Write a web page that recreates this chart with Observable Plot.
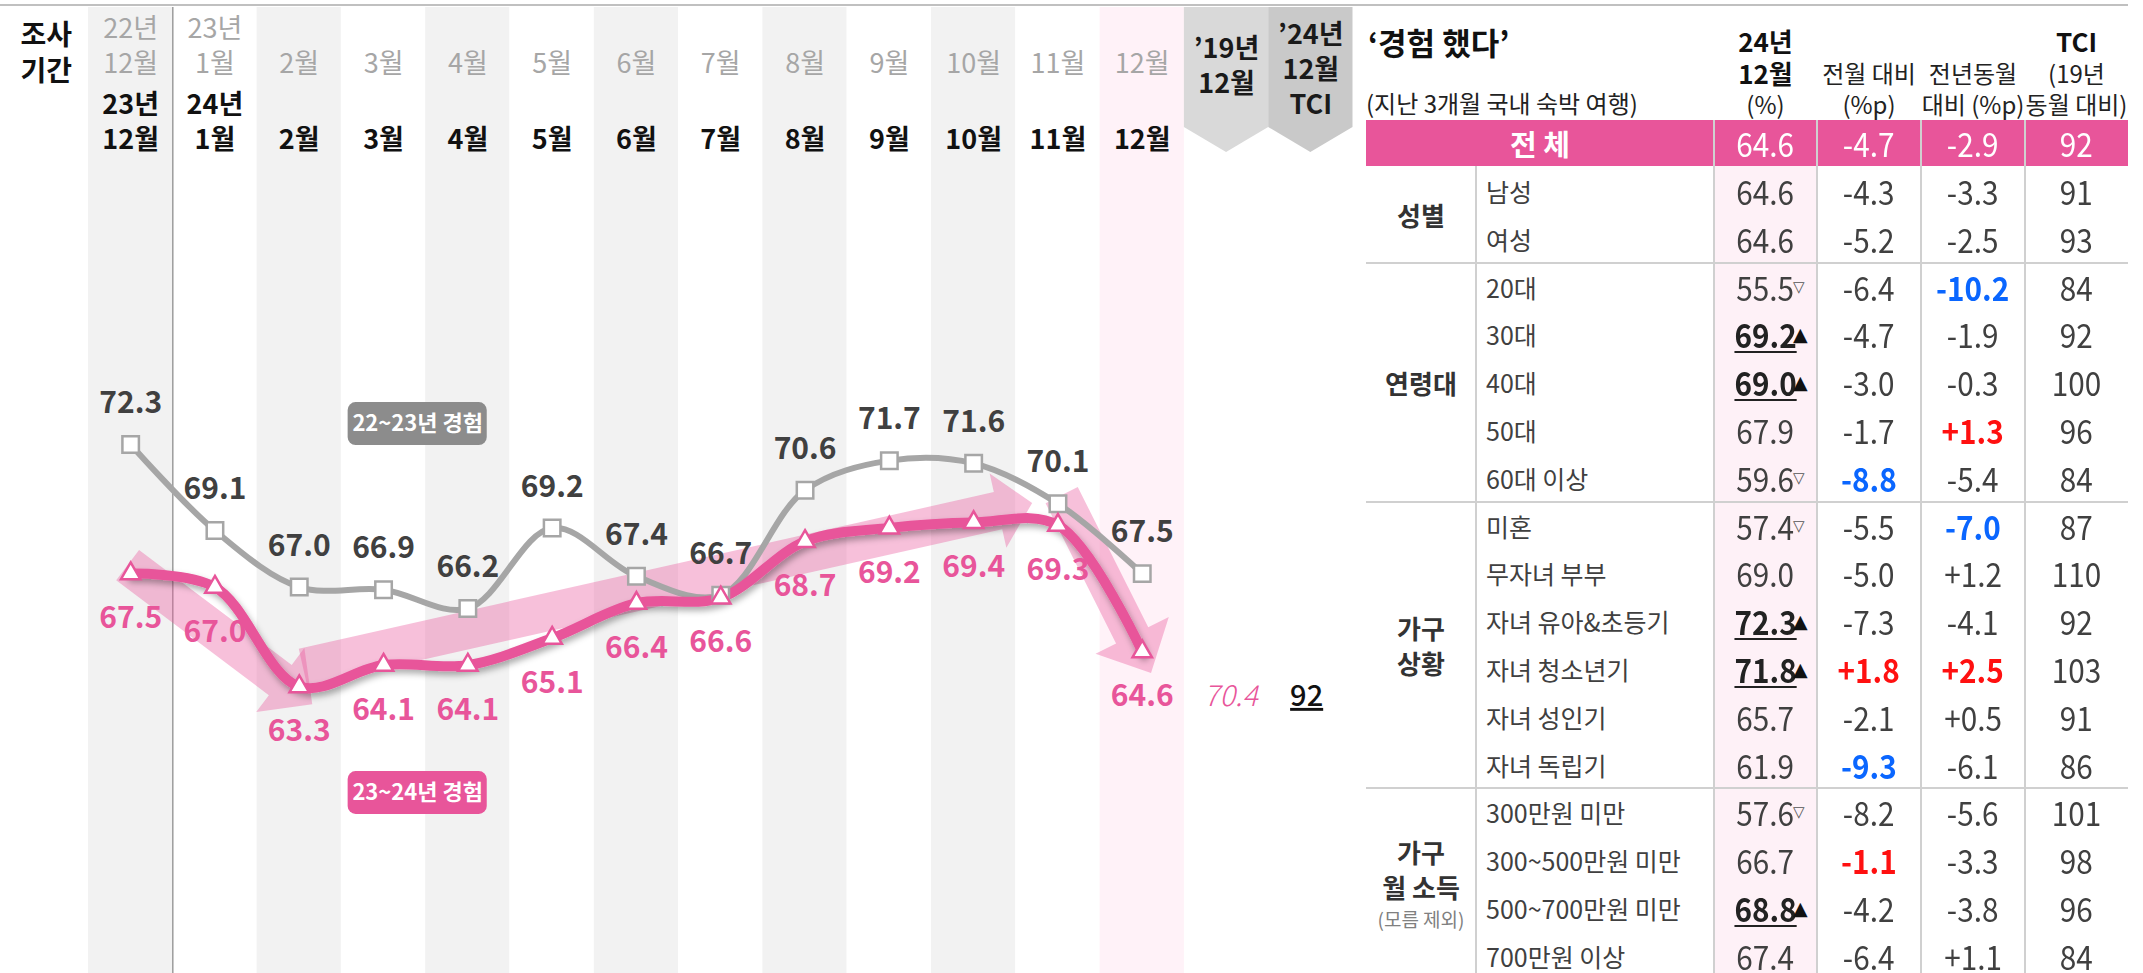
<!DOCTYPE html>
<html>
<head>
<meta charset="utf-8">
<script src="https://cdn.jsdelivr.net/npm/d3@7"></script>
<script src="https://cdn.jsdelivr.net/npm/@observablehq/plot@0.6"></script>
<style>
  body { margin: 0; background: #fff; }
  #wrap { position: relative; width: 2143px; height: 973px; overflow: hidden; font-family: "Noto Sans CJK KR", sans-serif; }
  #chart { position: absolute; left: 0; top: 0; }
  #topline { position: absolute; left: 0; top: 4px; width: 2128px; height: 2px; background: #c0c0c0; }
  #table { position: absolute; left: 1366px; top: 0; width: 762px; height: 973px; }
</style>
</head>
<body>
<div id="wrap">
  <div id="chart"></div>
  <div id="table"></div>
  <div id="topline"></div>
</div>
<script>
// ---------------- DATA ----------------
const prevYearLabel = ["22년", "23년", "", "", "", "", "", "", "", "", "", "", ""];
const currYearLabel = ["23년", "24년", "", "", "", "", "", "", "", "", "", "", ""];
const monthLabel = ["12월", "1월", "2월", "3월", "4월", "5월", "6월", "7월", "8월", "9월", "10월", "11월", "12월"];
const series2223 = [72.3, 69.1, 67.0, 66.9, 66.2, 69.2, 67.4, 66.7, 70.6, 71.7, 71.6, 70.1, 67.5];
const series2324 = [67.5, 67.0, 63.3, 64.1, 64.1, 65.1, 66.4, 66.6, 68.7, 69.2, 69.4, 69.3, 64.6];
const dec2019 = 70.4;
const tciDec2024 = 92;
const legendLabels = ["22~23년 경험", "23~24년 경험"];
const tabLabels = ["’19년\n12월", "’24년\n12월\nTCI"];

// table
const groupNames = ["성별", "연령대", "가구\n상황", "가구\n월 소득"];
const groupNotes = ["", "", "", "(모름 제외)"];
const groupSizes = [2, 5, 6, 4];
const rowItems = ["남성", "여성", "20대", "30대", "40대", "50대", "60대 이상", "미혼", "무자녀 부부", "자녀 유아&초등기", "자녀 청소년기", "자녀 성인기", "자녀 독립기", "300만원 미만", "300~500만원 미만", "500~700만원 미만", "700만원 이상"];
const dec24 = [64.6, 64.6, 55.5, 69.2, 69.0, 67.9, 59.6, 57.4, 69.0, 72.3, 71.8, 65.7, 61.9, 57.6, 66.7, 68.8, 67.4];
const sigMark = ["", "", "down", "up", "up", "", "down", "down", "", "up", "up", "", "", "down", "", "up", ""];
const momChange = [-4.3, -5.2, -6.4, -4.7, -3.0, -1.7, -8.8, -5.5, -5.0, -7.3, 1.8, -2.1, -9.3, -8.2, -1.1, -4.2, -6.4];
const momFlag = ["", "", "", "", "", "", "blue", "", "", "", "red", "", "blue", "", "red", "", ""];
const yoyChange = [-3.3, -2.5, -10.2, -1.9, -0.3, 1.3, -5.4, -7.0, 1.2, -4.1, 2.5, 0.5, -6.1, -5.6, -3.3, -3.8, 1.1];
const yoyFlag = ["", "", "blue", "", "", "red", "", "blue", "", "", "red", "", "", "", "", "", ""];
const tci = [91, 93, 84, 92, 100, 96, 84, 87, 110, 92, 103, 91, 86, 101, 98, 96, 84];
const totalLabel = "전 체";
const totalRow = {dec24: 64.6, mom: -4.7, yoy: -2.9, tci: 92};
const tableTitle = "‘경험 했다’";
const tableSub = "(지난 3개월 국내 숙박 여행)";
const colHeads = [["24년", "12월", "(%)"], ["", "전월 대비", "(%p)"], ["", "전년동월", "대비 (%p)"], ["TCI", "(19년", "동월 대비)"]];

// ---------------- STYLE ----------------
const PINK = "#e8559a";
const GRAYLINE = "#a6a6a6";
const NUM = "'Liberation Sans Narrow','Noto Sans CJK KR',sans-serif";
const KR = "'Noto Sans CJK KR',sans-serif";
const Y0 = 52.635, Y1 = 88.545;

const cols = d3.range(13).map(i => ({
  i, prevY: prevYearLabel[i], currY: currYearLabel[i], mon: monthLabel[i],
  prev: series2223[i], curr: series2324[i]
}));
const bandFill = i => i === 12 ? "#fff2f8" : (i % 2 === 0 ? "#f2f2f2" : "#ffffff");
const X = d => d.i + 0.5;
const head = {frameAnchor: "top", lineAnchor: "middle"};

const mBands = Plot.rect(cols, {x1: d => d.i, x2: d => d.i + 1, y1: () => Y0, y2: () => Y1, fill: d => bandFill(d.i)});
const mDivider = Plot.ruleX([1], {stroke: "#9c9c9c", strokeWidth: 1.5});
const mGrayLine = Plot.line(cols, {x: X, y: "prev", stroke: GRAYLINE, strokeWidth: 6, curve: "catmull-rom"});
const mPinkLine = Plot.line(cols, {x: X, y: "curr", stroke: PINK, strokeWidth: 10, curve: "catmull-rom"});
const mGrayDots = Plot.dot(cols, {x: X, y: "prev", symbol: "square", r: 9.3, fill: "white", stroke: "#a6a6a6", strokeWidth: 2.5});
const mPinkDots = Plot.dot(cols, {x: X, y: "curr", symbol: "triangle", r: 7.2, fill: "white", stroke: PINK, strokeWidth: 2.5});
const mTci = Plot.text([tciDec2024], {x: () => 14.45, y: () => series2324[12], dy: 45, text: d => String(d), fill: "#111", fontSize: 29, fontWeight: 500, fontFamily: NUM});
const mTab1 = Plot.text([tabLabels[0]], {x: () => 13.5, ...head, dy: 57, text: d => d, lineHeight: 1.3, fill: "#1a1a1a", fontSize: 27, fontWeight: "bold", fontFamily: NUM});
const mTab2 = Plot.text([tabLabels[1]], {x: () => 14.5, ...head, dy: 60, text: d => d, lineHeight: 1.3, fill: "#1a1a1a", fontSize: 27, fontWeight: "bold", fontFamily: NUM});

const marks = [
  mBands, mDivider, mGrayLine, mPinkLine, mGrayDots, mPinkDots,
  Plot.text(cols, {x: X, y: "prev", text: d => d.prev.toFixed(1), dy: -41, fill: "#404040", fontSize: 30, fontWeight: "bold", fontFamily: NUM}),
  Plot.text(cols, {x: X, y: "curr", text: d => d.curr.toFixed(1), dy: 45, fill: PINK, fontSize: 30, fontWeight: "bold", fontFamily: NUM}),
  Plot.text([dec2019], {x: () => 13.55, y: () => series2324[12], dy: 45, text: d => d.toFixed(1), fill: PINK, fontSize: 29, fontStyle: "italic", fontWeight: 300, fontFamily: NUM}),
  mTci,
  // legend pills
  Plot.rect([0], {x1: () => 3.08, x2: () => 4.73, y1: () => 72.26, y2: () => 73.86, fill: "#8c8c8c", rx: 8}),
  Plot.text([legendLabels[0]], {x: () => 3.905, y: () => 73.06, text: d => d, fill: "white", fontSize: 22, fontWeight: "bold", fontFamily: NUM}),
  Plot.rect([0], {x1: () => 3.08, x2: () => 4.73, y1: () => 58.55, y2: () => 60.14, fill: PINK, rx: 8}),
  Plot.text([legendLabels[1]], {x: () => 3.905, y: () => 59.34, text: d => d, fill: "white", fontSize: 22, fontWeight: "bold", fontFamily: NUM}),
  // header
  Plot.text(["조사\n기간"], {x: () => -0.5, ...head, dy: 44, text: d => d, lineHeight: 1.3, fill: "#111", fontSize: 28, fontWeight: "bold", fontFamily: KR}),
  Plot.text(cols, {x: X, ...head, dy: 22, text: "prevY", fill: "#a6a6a6", fontSize: 27, fontFamily: NUM}),
  Plot.text(cols, {x: X, ...head, dy: 57, text: "mon", fill: "#a6a6a6", fontSize: 27, fontFamily: NUM}),
  Plot.text(cols, {x: X, ...head, dy: 98, text: "currY", fill: "#111", fontSize: 27, fontWeight: "bold", fontFamily: NUM}),
  Plot.text(cols, {x: X, ...head, dy: 133, text: "mon", fill: "#111", fontSize: 27, fontWeight: "bold", fontFamily: NUM}),
  mTab1, mTab2
];

const chart = Plot.plot({
  width: 1362, height: 973,
  marginLeft: 88, marginRight: 9.5, marginTop: 7, marginBottom: 0,
  x: {type: "linear", domain: [0, 15], axis: null},
  y: {type: "linear", domain: [Y0, Y1], axis: null},
  color: {type: "identity"},
  style: {background: "transparent", overflow: "visible"},
  marks
});
document.getElementById("chart").appendChild(chart);

// ---- decorations drawn with the plot's own scales ----
const svg = d3.select(chart);
const groups = Array.from(chart.children).filter(n => n.tagName.toLowerCase() === "g");
const nodeOf = m => groups.length === marks.length ? groups[marks.indexOf(m)] : null;
const xs = chart.scale("x"), ys = chart.scale("y");
const px = (c, v) => [xs.apply(c), ys.apply(v)];

const defs = svg.insert("defs", ":first-child");
const f = defs.append("filter").attr("id", "shadow").attr("x", "-10%").attr("y", "-10%").attr("width", "130%").attr("height", "150%");
f.append("feDropShadow").attr("dx", 2).attr("dy", 4).attr("stdDeviation", 3).attr("flood-color", "#000").attr("flood-opacity", 0.32);
if (nodeOf(mPinkLine)) d3.select(nodeOf(mPinkLine)).attr("filter", "url(#shadow)");

// trend arrows (decoration): tail / tip in (column, value) units
const trendArrows = [
  {from: [0.47, 67.8], to: [2.66, 62.63], w: 19, hw: 40, hl: 40},
  {from: [2.55, 64.0], to: [11.2, 70.11], w: 19, hw: 38, hl: 35},
  {from: [11.55, 70.4], to: [12.61, 63.79], w: 18, hw: 41, hl: 42}
];
const ag = d3.select(chart.insertBefore(document.createElementNS("http://www.w3.org/2000/svg", "g"), nodeOf(mGrayLine)));
for (const a of trendArrows) {
  const [x0, y0] = px(...a.from), [x1, y1] = px(...a.to);
  const L = Math.hypot(x1 - x0, y1 - y0), ux = (x1 - x0) / L, uy = (y1 - y0) / L, nx = -uy, ny = ux;
  const bx = x1 - ux * a.hl, by = y1 - uy * a.hl;
  const pts = [[x0 + nx * a.w, y0 + ny * a.w], [bx + nx * a.w, by + ny * a.w], [bx + nx * a.hw, by + ny * a.hw], [x1, y1],
    [bx - nx * a.hw, by - ny * a.hw], [bx - nx * a.w, by - ny * a.w], [x0 - nx * a.w, y0 - ny * a.w]];
  ag.append("polygon").attr("points", pts.map(p => p.join(",")).join(" ")).attr("fill", PINK).attr("fill-opacity", 0.37);
}

// header tabs
const tg = d3.select(chart.insertBefore(document.createElementNS("http://www.w3.org/2000/svg", "g"), nodeOf(mTab1)));
[[13, "#d9d9d9"], [14, "#c9c9c9"]].forEach(([c, col]) => {
  const a = xs.apply(c), b = xs.apply(c + 1), m = (a + b) / 2;
  tg.append("polygon").attr("points", `${a},7 ${b},7 ${b},127 ${m},152 ${a},127`).attr("fill", col);
});
if (nodeOf(mTci)) d3.select(nodeOf(mTci)).selectAll("text").style("text-decoration", "underline");

// ---------------- TABLE ----------------
const tbl = document.getElementById("table");
const C = {group: [0, 110], item: [110, 348], val: [348, 451], mom: [451, 555], yoy: [555, 659], tci: [659, 762]};
const ROW_TOP = 167, ROW_H = 47.8;
const TXT = "#404040";
function add(css, html = "") {
  const d = document.createElement("div");
  d.style.cssText = "position:absolute;white-space:nowrap;" + css;
  d.innerHTML = html; tbl.appendChild(d); return d;
}
function centered([x0, x1], yc, html, css = "", h = 36) {
  return add(`left:${x0}px;width:${x1 - x0}px;top:${yc - h / 2}px;height:${h}px;line-height:${h}px;display:flex;align-items:center;justify-content:center;${css}`, html);
}
const fmtPct = d3.format(".1f"), fmtChg = v => (v > 0 ? "+" : v < 0 ? "-" : "") + Math.abs(v).toFixed(1);
const flagColor = f => f === "blue" ? "#0a66ff" : f === "red" ? "#ff1010" : TXT;
const NUMCSS = `font-family:${NUM};font-size:33px;`;
const sq = s => `<span style="display:inline-block;line-height:34px;transform:scaleX(0.9)">${s}</span>`;

// header
add(`left:2px;top:22px;height:40px;line-height:40px;font-size:31px;font-weight:bold;color:#111;font-family:${KR}`, tableTitle);
add(`left:0px;top:87px;height:32px;line-height:32px;font-size:24px;color:#222;font-family:${KR}`, tableSub);
[C.val, C.mom, C.yoy, C.tci].forEach((cx, k) => {
  const [a, b, c] = colHeads[k];
  if (a) centered(cx, 41, a, `font-size:26px;font-weight:bold;color:#111;font-family:${NUM}`, 30);
  if (b) centered(cx, 73, b, `font-size:24px;color:#222;font-family:${NUM};${k === 0 ? "font-weight:bold;font-size:26px;color:#111;" : ""}`, 30);
  centered(cx, 104, c, `font-size:24px;color:#222;font-family:${NUM}`, 30);
});

// backgrounds
add(`left:${C.val[0]}px;width:${C.val[1] - C.val[0]}px;top:166px;height:807px;background:#fef1f7`);
add(`left:0;width:762px;top:120px;height:46px;background:${PINK}`);
// total row
centered([C.group[0], C.item[1]], 143, totalLabel, `font-size:29px;font-weight:bold;color:#fff;font-family:${KR}`);
centered(C.val, 143, sq(fmtPct(totalRow.dec24)), `${NUMCSS}color:#fff;`);
centered(C.mom, 143, sq(fmtChg(totalRow.mom)), `${NUMCSS}color:#fff;`);
centered(C.yoy, 143, sq(fmtChg(totalRow.yoy)), `${NUMCSS}color:#fff;`);
centered(C.tci, 143, sq(String(totalRow.tci)), `${NUMCSS}color:#fff;`);

// grid lines
add(`left:${C.item[0] - 1}px;width:2px;top:166px;height:807px;background:#d0d0d0`);
[C.val[0], C.mom[0], C.yoy[0], C.tci[0]].forEach(x => add(`left:${x - 1}px;width:2px;top:120px;height:853px;background:#d0d0d0`));
let acc = 0;
groupSizes.forEach((n, g) => {
  const start = acc; acc += n;
  if (g < groupSizes.length - 1) add(`left:0;width:762px;top:${ROW_TOP + acc * ROW_H - 1}px;height:2px;background:#d0d0d0`);
  const yc = ROW_TOP + ROW_H * (start + acc) / 2;
  const lines = groupNames[g].split("\n").map(s => `<div style="line-height:35px;font-size:26px;font-weight:bold;color:#333">${s}</div>`).join("")
    + (groupNotes[g] ? `<div style="line-height:30px;font-size:19px;color:#808080">${groupNotes[g]}</div>` : "");
  add(`left:${C.group[0]}px;width:${C.group[1] - C.group[0]}px;top:${yc - 60}px;height:120px;display:flex;flex-direction:column;align-items:center;justify-content:center;font-family:${KR}`, lines);
});

// rows
rowItems.forEach((item, i) => {
  const yc = ROW_TOP + ROW_H * (i + 0.5);
  add(`left:${C.item[0] + 10}px;top:${yc - 18}px;height:36px;line-height:36px;font-size:25px;color:${TXT};font-family:${KR}`, item);
  const sig = sigMark[i];
  centered(C.val, yc, sq(fmtPct(dec24[i])), `${NUMCSS}color:${sig === "up" ? "#222" : TXT};${sig === "up" ? "font-weight:bold;text-decoration:underline;text-decoration-thickness:2px;text-underline-offset:3px;" : ""}`);
  if (sig) add(`left:${C.val[0] + 79}px;top:${yc - 18}px;height:36px;line-height:36px;font-size:${sig === "up" ? 19 : 15}px;color:${sig === "up" ? "#111" : "#555"};font-family:'DejaVu Sans',sans-serif`, sig === "up" ? "▲" : "▽");
  centered(C.mom, yc, sq(fmtChg(momChange[i])), `${NUMCSS}color:${flagColor(momFlag[i])};${momFlag[i] ? "font-weight:bold;" : ""}`);
  centered(C.yoy, yc, sq(fmtChg(yoyChange[i])), `${NUMCSS}color:${flagColor(yoyFlag[i])};${yoyFlag[i] ? "font-weight:bold;" : ""}`);
  centered(C.tci, yc, sq(String(tci[i])), `${NUMCSS}color:${TXT};`);
});
</script>
</body>
</html>
